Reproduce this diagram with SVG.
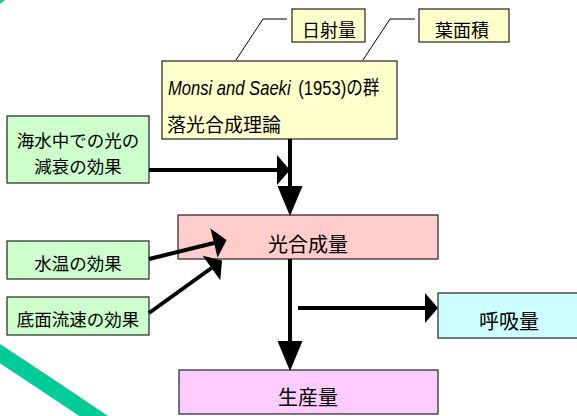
<svg xmlns="http://www.w3.org/2000/svg" width="577" height="416" viewBox="0 0 577 416">
<defs>
<style>
.box{stroke:#222;stroke-width:1.2}
.t{font-family:"Liberation Sans","Noto Sans CJK JP",sans-serif;fill:#000}
.c{text-anchor:middle}
.arr{stroke:#000;stroke-width:4;fill:none}
.thin{stroke:#000;stroke-width:1;fill:none}
</style>
<marker id="hs" markerUnits="userSpaceOnUse" markerWidth="14" markerHeight="30" refX="0" refY="15" orient="auto" overflow="visible">
<path d="M0,0 L13,15 L0,30 Z" fill="#000"/>
</marker>
<marker id="hl" markerUnits="userSpaceOnUse" markerWidth="30" markerHeight="26" refX="0" refY="12.5" orient="auto" overflow="visible">
<path d="M0,0 L30,12.5 L0,25 Z" fill="#000"/>
</marker>
</defs>
<rect width="577" height="416" fill="#fff"/>
<g id="decoration">
<path d="M-10,347 Q45,383 104,423" stroke="#00CC99" stroke-width="16" fill="none"/>
<path d="M0,0 L5,0 L0,4 Z" fill="#00CC99"/>
</g>
<g id="nisshaRyo">
<rect class="box" x="292" y="9" width="73" height="33" fill="#FFFFCC"/>
<text class="t c" x="329" y="37" font-size="18">日射量</text>
</g>
<g id="yomenseki">
<rect class="box" x="419" y="9" width="90" height="33" fill="#FFFFCC"/>
<text class="t c" x="462" y="37" font-size="18">葉面積</text>
</g>
<g id="monsiSaeki">
<rect class="box" x="162" y="61" width="235" height="78" fill="#FFFFCC"/>
<g transform="translate(168,95) scale(0.83,1)">
<text class="t" x="0" y="0" font-size="20" font-style="italic">Monsi and Saeki</text>
<text class="t" x="157" y="0" font-size="20">(1953)の群</text>
</g>
<text class="t" x="167" y="132" font-size="19">落光合成理論</text>
</g>
<g id="gensui">
<rect class="box" x="7" y="116" width="142" height="67" fill="#CCFFCC"/>
<text class="t c" x="78" y="147" font-size="17.5">海水中での光の</text>
<text class="t c" x="78" y="173" font-size="17.5">減衰の効果</text>
</g>
<g id="suion">
<rect class="box" x="7" y="241" width="142" height="38" fill="#CCFFCC"/>
<text class="t c" x="78" y="270" font-size="17.5">水温の効果</text>
</g>
<g id="ryusoku">
<rect class="box" x="7" y="297" width="142" height="38" fill="#CCFFCC"/>
<text class="t c" x="78" y="326" font-size="17.5">底面流速の効果</text>
</g>
<g id="kougouseiRyo">
<rect class="box" x="178" y="215" width="260" height="44" fill="#FFCCCC"/>
<text class="t c" x="308" y="252" font-size="20">光合成量</text>
</g>
<g id="kokyuRyo">
<rect class="box" x="438" y="293" width="142" height="45" fill="#CCFFFF"/>
<text class="t c" x="509" y="329" font-size="20">呼吸量</text>
</g>
<g id="seisanRyo">
<rect class="box" x="179" y="370" width="259" height="44" fill="#FFCCFF"/>
<text class="t c" x="308" y="405" font-size="20">生産量</text>
</g>
<g id="connectors">
<polyline class="thin" points="287,19 263,19 236,60"/>
<polyline class="thin" points="415,19 390,19 363,60"/>
<line class="arr" x1="149" y1="170" x2="277" y2="170" marker-end="url(#hs)"/>
<line class="arr" x1="290" y1="139" x2="290" y2="186" marker-end="url(#hl)"/>
<line class="arr" x1="149" y1="259" x2="214" y2="243" marker-end="url(#hs)"/>
<line class="arr" x1="149" y1="313" x2="211.5" y2="268" marker-end="url(#hs)"/>
<line class="arr" x1="290" y1="259" x2="290" y2="341" marker-end="url(#hl)"/>
<line class="arr" x1="298" y1="308" x2="425" y2="308" marker-end="url(#hs)"/>
</g>
</svg>
